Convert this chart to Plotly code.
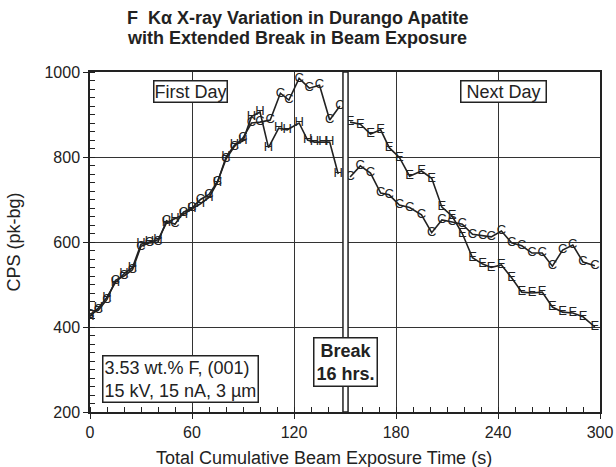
import plotly.graph_objects as go

# first day (before the break)
day1_upper_t = [0, 5, 10, 15, 20, 25, 30, 35, 40, 45, 50, 55, 60, 65, 70, 75, 80, 85, 90, 95,
                100, 106, 112, 117, 123, 129, 135, 141, 147]
day1_upper_cps = [430, 440, 465, 510, 520, 535, 590, 598, 600, 650, 642, 670, 680, 700, 712, 742,
                  795, 825, 845, 880, 882, 887, 950, 934, 985, 962, 969, 887, 920]

day1_lower_t = [0, 5, 10, 15, 20, 25, 30, 35, 40, 45, 50, 55, 60, 65, 70, 75, 80, 85, 90, 95,
                100, 105, 111, 116, 123, 128, 132, 137, 141, 146]
day1_lower_cps = [425, 445, 470, 505, 525, 540, 595, 600, 605, 645, 655, 665, 678, 690, 705, 740,
                  800, 828, 838, 895, 906, 822, 868, 864, 880, 840, 835, 835, 835, 760]

# next day (after the break)
day2_t = [153, 159, 165, 171, 176, 182, 188, 195, 201, 207, 213, 219, 225, 231, 236, 242, 248,
          254, 260, 266, 272, 278, 284, 290, 297]
day2_e_cps = [882, 877, 854, 864, 822, 799, 755, 767, 750, 682, 661, 620, 563, 548, 540, 546,
              516, 482, 480, 482, 447, 435, 433, 424, 400]
day2_c_cps = [753, 779, 762, 715, 711, 687, 681, 664, 622, 652, 647, 642, 618, 614, 612, 626,
              598, 591, 574, 574, 543, 581, 593, 553, 544]

title_lines = ["F  Kα X-ray Variation in Durango Apatite",
               "with Extended Break in Beam Exposure"]

INK = "#222222"
FONT = "Liberation Sans, Arial, sans-serif"

fig = go.Figure()


def add_series(t, cps, letter):
    fig.add_trace(go.Scatter(
        x=t, y=cps, mode="lines+text", text=[letter] * len(t),
        textposition="middle center",
        textfont=dict(family=FONT, size=13, color=INK),
        line=dict(color=INK, width=1.6), showlegend=False, hoverinfo="x+y",
    ))


add_series(day1_lower_t, day1_lower_cps, "H")
add_series(day1_upper_t, day1_upper_cps, "C")
add_series(day2_t, day2_e_cps, "E")
add_series(day2_t, day2_c_cps, "C")

# the break bar
fig.add_shape(type="rect", xref="x", yref="y", x0=148.8, x1=151.8, y0=200, y1=1000,
              line=dict(color=INK, width=1.5), fillcolor="white", layer="above")

box = dict(showarrow=False, bgcolor="white", bordercolor=INK, borderwidth=1.5,
           font=dict(family=FONT, size=18, color=INK))
fig.add_annotation(x=59, y=954, text="First Day", borderpad=0, **box)
fig.add_annotation(x=243.5, y=954, text="\u00a0Next Day\u00a0", borderpad=0, **box)
fig.add_annotation(x=150.5, y=318, text="<b>Break<br>16 hrs.</b>", borderpad=2, **box)
fig.add_annotation(x=7, y=278, xanchor="left", align="left",
                   text="3.53 wt.% F, (001)<br>15 kV, 15 nA, 3 µm", borderpad=1, **box)

# title as two centred lines
for i, line in enumerate(title_lines):
    fig.add_annotation(xref="paper", yref="paper", x=0.406, y=1.159 - i * 0.058,
                       text=f"<b>{line}</b>", showarrow=False, yanchor="middle",
                       font=dict(family=FONT, size=18, color=INK))

# x axis title sits a little left of the plot centre in the original
fig.add_annotation(xref="paper", yref="paper", x=0.459, y=-0.135, yanchor="middle",
                   text="Total Cumulative Beam Exposure Time (s)", showarrow=False,
                   font=dict(family=FONT, size=18, color=INK))

axis_common = dict(
    showline=True, linecolor=INK, linewidth=1.5, mirror=True,
    showgrid=True, gridcolor="#333333", gridwidth=1.3,
    ticks="outside", ticklen=5, tickcolor=INK,
    tickfont=dict(family=FONT, size=16, color=INK),
    zeroline=False, automargin=False,
)

fig.update_xaxes(range=[0, 300], dtick=60, tick0=0,
                 minor=dict(dtick=10, ticks="inside", ticklen=5, tickcolor=INK, showgrid=False),
                 **axis_common)
fig.update_yaxes(range=[200, 1000], dtick=200, tick0=200,
                 minor=dict(dtick=20, ticks="inside", ticklen=5, tickcolor=INK, showgrid=False),
                 title=dict(text="CPS (pk-bg)", standoff=19,
                            font=dict(family=FONT, size=18, color=INK)),
                 **axis_common)

fig.update_layout(
    width=616, height=467,
    margin=dict(l=90, r=16, t=72, b=55),
    paper_bgcolor="white", plot_bgcolor="white",
)

fig.write_html("out.html", config={"displayModeBar": False},
               post_script="document.body.style.margin='0';")
